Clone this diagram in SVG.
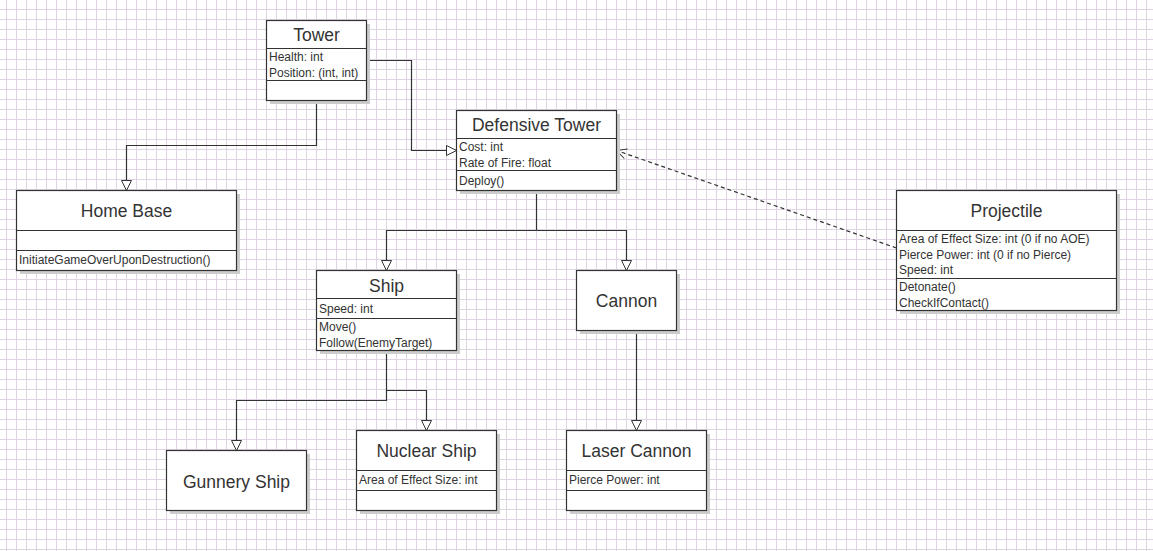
<svg xmlns="http://www.w3.org/2000/svg" width="1153" height="551" viewBox="0 0 1153 551">
<defs>
<pattern id="grid" x="0" y="0" width="10" height="10" patternUnits="userSpaceOnUse">
<path d="M6.5,0 V10 M0,9.5 H10" stroke="#e0d3e4" stroke-width="1" fill="none"/>
</pattern>
<marker id="tri" markerUnits="userSpaceOnUse" markerWidth="12" markerHeight="12" refX="10" refY="5" orient="auto" overflow="visible">
<path d="M0,0 L10,5 L0,10 Z" fill="#fff" stroke="#333" stroke-width="1"/>
</marker>
<marker id="open" markerUnits="userSpaceOnUse" markerWidth="12" markerHeight="12" refX="10" refY="5" orient="auto" overflow="visible">
<path d="M0,0 L10,5 L0,10" fill="none" stroke="#333" stroke-width="1"/>
</marker>
</defs>
<style>
.box{fill:#fff;stroke:#333;stroke-width:1.2}
.shadow{fill:#cccccc}
.div{stroke:#333;stroke-width:1.2;fill:none}
.title{font-family:"Liberation Sans",Arial,sans-serif;font-size:17.5px;fill:#333;text-anchor:middle}
.attr{font-family:"Liberation Sans",Arial,sans-serif;font-size:12px;fill:#333}
.conn{stroke:#333;stroke-width:1.2;fill:none}
.gen{marker-end:url(#tri)}
.dash{stroke-dasharray:4,3;marker-end:url(#open)}
</style>
<rect width="1153" height="551" fill="#fff"/>
<rect width="1153" height="551" fill="url(#grid)"/>

<g id="connectors">
<path class="conn gen" d="M366.5,60.5 H411.5 V150.5 H456.5"/>
<path class="conn gen" d="M316.5,100.5 V145.5 H126.5 V190.5"/>
<path class="conn" d="M536.5,190.5 V230.5"/>
<path class="conn gen" d="M536.5,230.5 H386.5 V270.5"/>
<path class="conn gen" d="M536.5,230.5 H626.5 V270.5"/>
<path class="conn gen" d="M386.5,350.5 V400.5 H236.5 V450.5"/>
<path class="conn gen" d="M386.5,390.5 H426.5 V430.5"/>
<path class="conn gen" d="M636.5,330.5 V430.5"/>
<path class="conn dash" d="M896.5,248 L616.5,150.5"/>
</g>

<g id="tower">
<rect class="shadow" x="270" y="24" width="100" height="80"/>
<rect class="box" x="266.5" y="20.5" width="100" height="80"/>
<path class="div" d="M266.5,48.5 H366.5 M266.5,80.5 H366.5"/>
<text class="title" x="316.5" y="41">Tower</text>
<text class="attr" x="269" y="61">Health: int</text>
<text class="attr" x="269" y="77">Position: (int, int)</text>
</g>

<g id="defensive-tower">
<rect class="shadow" x="460" y="114" width="160" height="80"/>
<rect class="box" x="456.5" y="110.5" width="160" height="80"/>
<path class="div" d="M456.5,138.5 H616.5 M456.5,170.5 H616.5"/>
<text class="title" x="536.5" y="131">Defensive Tower</text>
<text class="attr" x="459" y="151">Cost: int</text>
<text class="attr" x="459" y="167">Rate of Fire: float</text>
<text class="attr" x="459" y="185">Deploy()</text>
</g>

<g id="home-base">
<rect class="shadow" x="20" y="194" width="220" height="80"/>
<rect class="box" x="16.5" y="190.5" width="220" height="80"/>
<path class="div" d="M16.5,230.5 H236.5 M16.5,250.5 H236.5"/>
<text class="title" x="126.5" y="217">Home Base</text>
<text class="attr" x="19" y="264">InitiateGameOverUponDestruction()</text>
</g>

<g id="ship">
<rect class="shadow" x="320" y="274" width="140" height="80"/>
<rect class="box" x="316.5" y="270.5" width="140" height="80"/>
<path class="div" d="M316.5,298.5 H456.5 M316.5,318.5 H456.5"/>
<text class="title" x="386.5" y="292">Ship</text>
<text class="attr" x="319" y="313">Speed: int</text>
<text class="attr" x="319" y="331">Move()</text>
<text class="attr" x="319" y="347">Follow(EnemyTarget)</text>
</g>

<g id="cannon">
<rect class="shadow" x="580" y="274" width="100" height="60"/>
<rect class="box" x="576.5" y="270.5" width="100" height="60"/>
<text class="title" x="626.5" y="307">Cannon</text>
</g>

<g id="projectile">
<rect class="shadow" x="900" y="194" width="220" height="120"/>
<rect class="box" x="896.5" y="190.5" width="220" height="120"/>
<path class="div" d="M896.5,230.5 H1116.5 M896.5,278.5 H1116.5"/>
<text class="title" x="1006.5" y="217">Projectile</text>
<text class="attr" x="899" y="243">Area of Effect Size: int (0 if no AOE)</text>
<text class="attr" x="899" y="258.5">Pierce Power: int (0 if no Pierce)</text>
<text class="attr" x="899" y="274">Speed: int</text>
<text class="attr" x="899" y="290.5">Detonate()</text>
<text class="attr" x="899" y="306.5">CheckIfContact()</text>
</g>

<g id="gunnery-ship">
<rect class="shadow" x="170" y="454" width="140" height="60"/>
<rect class="box" x="166.5" y="450.5" width="140" height="60"/>
<text class="title" x="236.5" y="488">Gunnery Ship</text>
</g>

<g id="nuclear-ship">
<rect class="shadow" x="360" y="434" width="140" height="80"/>
<rect class="box" x="356.5" y="430.5" width="140" height="80"/>
<path class="div" d="M356.5,470.5 H496.5 M356.5,490.5 H496.5"/>
<text class="title" x="426.5" y="457">Nuclear Ship</text>
<text class="attr" x="359" y="484">Area of Effect Size: int</text>
</g>

<g id="laser-cannon">
<rect class="shadow" x="570" y="434" width="140" height="80"/>
<rect class="box" x="566.5" y="430.5" width="140" height="80"/>
<path class="div" d="M566.5,470.5 H706.5 M566.5,490.5 H706.5"/>
<text class="title" x="636.5" y="457">Laser Cannon</text>
<text class="attr" x="569" y="484">Pierce Power: int</text>
</g>
</svg>
